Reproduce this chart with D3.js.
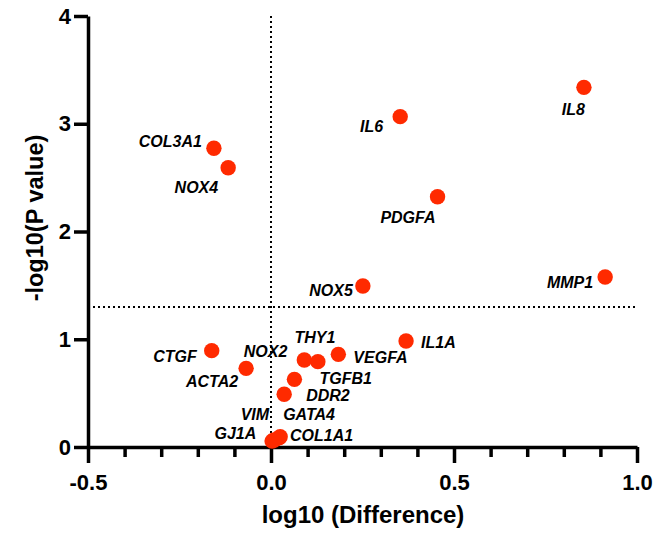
<!DOCTYPE html>
<html><head><meta charset="utf-8">
<script src="https://cdn.jsdelivr.net/npm/d3@7"></script>
<style>
html,body{margin:0;padding:0;background:#fff;}
svg{display:block;font-family:"Liberation Sans",Arial,Helvetica,sans-serif;}
</style></head>
<body>
<svg id="chart" width="658" height="541"></svg>
<script>
// ---- data ----
const genes  = ["IL8","IL6","PDGFA","MMP1","COL3A1","NOX4","NOX5","IL1A","VEGFA","CTGF","ACTA2","NOX2","THY1","TGFB1","DDR2","GATA4","VIM","COL1A1","GJ1A"];
const logDiff = [0.855,0.353,0.455,0.913,-0.156,-0.117,0.251,0.369,0.184,-0.162,-0.068,0.091,0.128,0.064,0.036,0.025,0.003,0.022,0.009];
const negLogP = [3.338,3.066,2.323,1.578,2.772,2.592,1.494,0.984,0.860,0.894,0.730,0.807,0.792,0.628,0.489,0.095,0.055,0.085,0.065];
const xTicks = [-0.5,0,0.5,1.0];
const xTickLabels = ["-0.5","0.0","0.5","1.0"];
const xMinorTicks = [-0.4,-0.3,-0.2,-0.1,0.1,0.2,0.3,0.4,0.6,0.7,0.8,0.9];
const yTicks = [0,1,2,3,4];
const yTickLabels = ["0","1","2","3","4"];
const pThreshold = 1.3;

// label placement (layout only): anchor, dx, dy relative to point
const labelAnchor = ["end","end","end","end","end","end","end","start","start","end","end","end","middle","start","start","start","end","start","end"];
const labelDx = [1,-17,-2,-12,-12,-10,-10,15,15,-15,-8,-17,-3,25,22,3,-3,11,-18];
const labelDy = [28,15,26,11,-1,25,10,7,9,11,19,-3,-19,5,7,-17,-21,3,-1];

// ---- layout ----
const svg = d3.select("#chart");
const x = d3.scaleLinear().domain([-0.5,1.0]).range([88,637]);
const y = d3.scaleLinear().domain([0,4]).range([447,16]);
const red = "#ff2a00";

// dotted reference lines
svg.append("line").attr("x1",x(0)).attr("x2",x(0)).attr("y1",y(4)).attr("y2",y(0))
  .attr("stroke","#000").attr("stroke-width",2).attr("stroke-dasharray","2,3");
svg.append("line").attr("x1",x(-0.5)).attr("x2",x(1)).attr("y1",y(pThreshold)).attr("y2",y(pThreshold))
  .attr("stroke","#000").attr("stroke-width",2).attr("stroke-dasharray","2,3");

// x axis
const xAxis = d3.axisBottom(x).tickValues(xTicks).tickFormat((d,i)=>xTickLabels[i]).tickSize(16).tickPadding(6).tickSizeOuter(0);
const gx = svg.append("g").attr("transform",`translate(0,${y(0)})`).call(xAxis);
gx.select(".domain").attr("stroke","#000").attr("stroke-width",3.5);
gx.selectAll(".tick line").attr("stroke","#000").attr("stroke-width",3.5);
gx.selectAll(".tick text").attr("fill","#000").attr("font-size",22).attr("font-weight","bold").attr("font-family","Liberation Sans, Arial, sans-serif").attr("dy","0.95em");
const xMinor = d3.axisBottom(x).tickValues(xMinorTicks).tickFormat("").tickSize(10).tickSizeOuter(0);
const gxm = svg.append("g").attr("transform",`translate(0,${y(0)})`).call(xMinor);
gxm.select(".domain").remove();
gxm.selectAll(".tick line").attr("stroke","#000").attr("stroke-width",3.5);

// y axis
const yAxis = d3.axisLeft(y).tickValues(yTicks).tickFormat((d,i)=>yTickLabels[i]).tickSize(14).tickPadding(3).tickSizeOuter(0);
const gy = svg.append("g").attr("transform",`translate(${x(-0.5)},0)`).call(yAxis);
gy.select(".domain").attr("stroke","#000").attr("stroke-width",3.5);
gy.selectAll(".tick line").attr("stroke","#000").attr("stroke-width",3.5);
gy.selectAll(".tick text").attr("fill","#000").attr("font-size",22).attr("font-weight","bold").attr("font-family","Liberation Sans, Arial, sans-serif");

// axis titles
svg.append("text").attr("x",363).attr("y",523).attr("text-anchor","middle")
  .attr("font-size",24).attr("font-weight","bold").text("log10 (Difference)");
svg.append("text").attr("transform","translate(43,218) rotate(-90)").attr("text-anchor","middle")
  .attr("font-size",23.5).attr("font-weight","bold").text("-log10(P value)");

// points
const pts = genes.map((g,i)=>({g, xv:logDiff[i], yv:negLogP[i], a:labelAnchor[i], dx:labelDx[i], dy:labelDy[i]}));
svg.append("g").selectAll("circle").data(pts).join("circle")
  .attr("cx",d=>x(d.xv)).attr("cy",d=>y(d.yv)).attr("r",7.7).attr("fill",red);

// labels
svg.append("g").selectAll("text").data(pts).join("text")
  .attr("x",d=>x(d.xv)+d.dx).attr("y",d=>y(d.yv)+d.dy)
  .attr("text-anchor",d=>d.a)
  .attr("font-size",16).attr("font-weight","bold").attr("font-style","italic")
  .attr("fill","#000").text(d=>d.g);
</script>
</body></html>
